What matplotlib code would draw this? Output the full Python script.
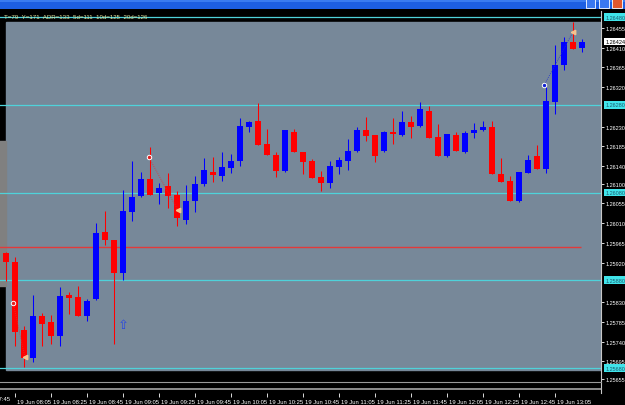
import matplotlib
matplotlib.use("Agg")
import matplotlib.pyplot as plt
import matplotlib.transforms as mtransforms
from matplotlib.patches import Rectangle
from matplotlib.lines import Line2D

# EURUSD-like 5 minute bars, 19 Jun 08:00 .. 13:20
opens = [1.25942, 1.25922, 1.25767, 1.25703, 1.25799, 1.25785, 1.25753, 1.25846, 1.25842, 1.25799,
         1.25837, 1.25990, 1.25972, 1.25897, 1.26036, 1.26072, 1.26111, 1.26079, 1.26095, 1.26074,
         1.26017, 1.26061, 1.26099, 1.26127, 1.26118, 1.26136, 1.26152, 1.26229, 1.26243, 1.26191,
         1.26165, 1.26129, 1.26218, 1.26172, 1.26152, 1.26115, 1.26102, 1.26138, 1.26152, 1.26175,
         1.26222, 1.26211, 1.26175, 1.26218, 1.26211, 1.26241, 1.26232, 1.26266, 1.26207, 1.26163,
         1.26211, 1.26172, 1.26216, 1.26222, 1.26229, 1.26122, 1.26106, 1.26061, 1.26124, 1.26163,
         1.26134, 1.26286, 1.26371, 1.26423, 1.26409]
highs = [1.25945, 1.25933, 1.25776, 1.25846, 1.25805, 1.25801, 1.25865, 1.25853, 1.25867, 1.25837,
         1.26011, 1.26038, 1.25972, 1.26086, 1.26152, 1.26127, 1.26184, 1.26102, 1.26124, 1.26083,
         1.26097, 1.26118, 1.26159, 1.26161, 1.26172, 1.26168, 1.26250, 1.26243, 1.26284, 1.26225,
         1.26172, 1.26222, 1.26225, 1.26172, 1.26156, 1.26129, 1.26152, 1.26161, 1.26202, 1.26229,
         1.26252, 1.26211, 1.26220, 1.26250, 1.26266, 1.26254, 1.26286, 1.26277, 1.26236, 1.26213,
         1.26218, 1.26220, 1.26238, 1.26243, 1.26243, 1.26159, 1.26118, 1.26127, 1.26165, 1.26188,
         1.26320, 1.26416, 1.26434, 1.26469, 1.26430]
lows = [1.25878, 1.25730, 1.25682, 1.25694, 1.25730, 1.25735, 1.25730, 1.25803, 1.25799, 1.25787,
        1.25835, 1.25960, 1.25735, 1.25881, 1.26015, 1.26070, 1.26074, 1.26054, 1.26045, 1.26004,
        1.26008, 1.26036, 1.26095, 1.26104, 1.26106, 1.26124, 1.26140, 1.26218, 1.26188, 1.26165,
        1.26115, 1.26127, 1.26172, 1.26122, 1.26113, 1.26083, 1.26090, 1.26122, 1.26131, 1.26173,
        1.26197, 1.26150, 1.26173, 1.26191, 1.26209, 1.26204, 1.26230, 1.26204, 1.26163, 1.26161,
        1.26175, 1.26170, 1.26204, 1.26220, 1.26122, 1.26104, 1.26061, 1.26059, 1.26124, 1.26134,
        1.26124, 1.26259, 1.26359, 1.26407, 1.26400]
closes = [1.25922, 1.25762, 1.25703, 1.25799, 1.25780, 1.25753, 1.25844, 1.25840, 1.25799, 1.25833,
          1.25988, 1.25972, 1.25897, 1.26038, 1.26070, 1.26111, 1.26074, 1.26090, 1.26072, 1.26022,
          1.26061, 1.26099, 1.26131, 1.26120, 1.26138, 1.26152, 1.26232, 1.26241, 1.26188, 1.26165,
          1.26129, 1.26222, 1.26172, 1.26150, 1.26113, 1.26102, 1.26140, 1.26154, 1.26175, 1.26222,
          1.26209, 1.26163, 1.26218, 1.26213, 1.26241, 1.26229, 1.26270, 1.26204, 1.26163, 1.26213,
          1.26175, 1.26216, 1.26222, 1.26229, 1.26122, 1.26104, 1.26061, 1.26127, 1.26154, 1.26134,
          1.26289, 1.26371, 1.26423, 1.26407, 1.26424]

time_labels = ["19 Jun 08:05", "19 Jun 08:25", "19 Jun 08:45", "19 Jun 09:05",
               "19 Jun 09:25", "19 Jun 09:45", "19 Jun 10:05", "19 Jun 10:25",
               "19 Jun 10:45", "19 Jun 11:05", "19 Jun 11:25", "19 Jun 11:45",
               "19 Jun 12:05", "19 Jun 12:25", "19 Jun 12:45", "19 Jun 13:05"]
price_ticks = [1.26455, 1.26410, 1.26365, 1.26320, 1.26230, 1.26185, 1.26140, 1.26100,
               1.26055, 1.26010, 1.25965, 1.25920, 1.25830, 1.25785, 1.25740, 1.25695, 1.25655]
level_lines = [1.26480, 1.26280, 1.26080, 1.25880, 1.25680]
red_level = 1.25955
current_price = 1.26424
info_text = "T=79  Y=171  ADR=133  5d=111  10d=125  20d=126"

# signal objects (bar position, price)
dot_red_x = [0.8, 15.85]
dot_red_y = [1.25828, 1.26161]
tri_x = [2.1, 19.1, 63.0]
tri_y = [1.25705, 1.26040, 1.26446]
dot_blue_x = [59.8]
dot_blue_y = [1.26325]
arrow_x, arrow_y = 13, 1.25780

BG = "#778899"
CYAN = "#4fd2da"
UP, DOWN = "#0000ff", "#ff0000"

plt.rcParams['font.family'] = ['Liberation Sans', 'DejaVu Sans']

W, H = 625, 406
fig = plt.figure(figsize=(W / 100, H / 100), dpi=100, facecolor="black")


def fx(px):
    return px / W


def fy(py):
    return 1 - py / H


ax = fig.add_axes([0, fy(394), fx(601), fy(12) - fy(394)])
ax.set_facecolor("black")
ax.set_xlim(-6 / 9, 595 / 9)
ax.set_ylim(1.256231, 1.264937)

# background rectangles
ax.add_patch(Rectangle((0, 1.25676), 100, 1.26469 - 1.25676, color=BG, zorder=0))
ax.add_patch(Rectangle((-2, 1.25867), 2, 1.26197 - 1.25867, color="#808080", zorder=0))

ax.hlines(level_lines, -1, 70, colors=CYAN, lw=0.9, zorder=1)
ax.hlines(red_level, -1, 63.9, colors="#e23a3a", lw=1.0, zorder=1)

# candles
onepx = (1.264937 - 1.256231) / 382
for i in range(len(opens)):
    o, h, l, c = opens[i], highs[i], lows[i], closes[i]
    col = UP if c >= o else DOWN
    ax.vlines(i, l, h, colors=col, lw=0.75, zorder=3)
    lo = min(o, c)
    ht = max(abs(c - o), onepx * 1.2)
    ax.bar(i, ht, bottom=lo, width=0.64, color=col, zorder=3, linewidth=0)

# signal markers
ax.plot([dot_red_x[0], tri_x[0]], [dot_red_y[0], tri_y[0]], ls=(0, (1, 1.5)), color="#e03030", lw=0.6, zorder=4)
ax.plot([dot_red_x[1], tri_x[1]], [dot_red_y[1], tri_y[1]], ls=(0, (1, 1.5)), color="#e03030", lw=0.6, zorder=4)
ax.plot([dot_blue_x[0], tri_x[2]], [dot_blue_y[0], tri_y[2]], ls=(0, (1, 1.5)), color="#2030d0", lw=0.6, zorder=4)
ax.plot(dot_red_x, dot_red_y, "o", ms=3.2, mfc="#e02020", mec="white", mew=0.7, zorder=5)
ax.plot(dot_blue_x, dot_blue_y, "o", ms=3.2, mfc="#1020d0", mec="white", mew=0.7, zorder=5)
ax.plot(tri_x, tri_y, "<", ms=3.2, mfc="#f6c48e", mec="#f6c48e", zorder=5)
ax.text(arrow_x, arrow_y, "\u21e7", color="#2a48e0", fontsize=9.5, ha="center", va="center",
        family=["DejaVu Sans"], zorder=5)

# price scale on the right
ax.yaxis.tick_right()
ax.set_yticks(price_ticks)
ax.set_yticklabels([f"{p:.5f}" for p in price_ticks])
ax.tick_params(axis="y", colors="white", labelsize=4, length=2, width=0.6, pad=1.5)
trans = mtransforms.blended_transform_factory(ax.transAxes, ax.transData)
for lv in level_lines:
    ax.text(1 + 4.5 / 601, lv, f"{lv:.5f}", transform=trans, fontsize=4, color="#1e5c70",
            ha="left", va="center", clip_on=False,
            bbox=dict(boxstyle="square,pad=0.25", fc="#40e4ea", ec="none"))
ax.text(1 + 4.5 / 601, current_price, f"{current_price:.5f}", transform=trans, fontsize=4,
        color="black", ha="left", va="center", clip_on=False,
        bbox=dict(boxstyle="square,pad=0.25", fc="white", ec="none"))

# time scale
ax.set_xticks([1 + 4 * k for k in range(len(time_labels))])
ax.set_xticklabels(time_labels)
ax.tick_params(axis="x", colors="white", labelsize=4.2, length=3, width=0.6, pad=1)
shift = mtransforms.ScaledTranslation(2 / 100, 0, fig.dpi_scale_trans)
for lab in ax.get_xticklabels():
    lab.set_horizontalalignment("left")
    lab.set_transform(lab.get_transform() + shift)
# first label is only partly visible at the left edge
fig.text(fx(-24), fy(397.5), "19 Jun 07:45", color="white", fontsize=4.2, ha="left", va="top")

for s in ["left", "top", "bottom"]:
    ax.spines[s].set_visible(False)
ax.spines["right"].set_color("#c8c8c8")
ax.spines["right"].set_linewidth(0.8)

# empty sub window frame lines
fig.add_artist(Line2D([0, fx(601)], [fy(383), fy(383)], color="#9a9a9a", lw=0.8))
fig.add_artist(Line2D([0, fx(601)], [fy(389.5), fy(389.5)], color="#b4b4b4", lw=1.1))

# info line
fig.text(fx(4), fy(17.5), info_text, color="#e4e49c", fontsize=4.4, ha="left", va="center", zorder=10)

# window title bar
fig.add_artist(Rectangle((0, fy(10)), 1, fy(0) - fy(10), transform=fig.transFigure, fc="#1d5fe2", ec="none"))
fig.add_artist(Rectangle((0, fy(3)), 1, fy(0) - fy(3), transform=fig.transFigure, fc="#3a7cf0", ec="none"))
for x0, x1, col in [(586, 595, "#3a78f0"), (599, 609, "#3a78f0"), (612, 622, "#e2572e")]:
    fig.add_artist(Rectangle((fx(x0), fy(8.5)), fx(x1) - fx(x0), fy(0) - fy(8.5), transform=fig.transFigure,
                             fc=col, ec="white", lw=0.6))

fig.savefig("out.png", dpi=100, facecolor="black")
